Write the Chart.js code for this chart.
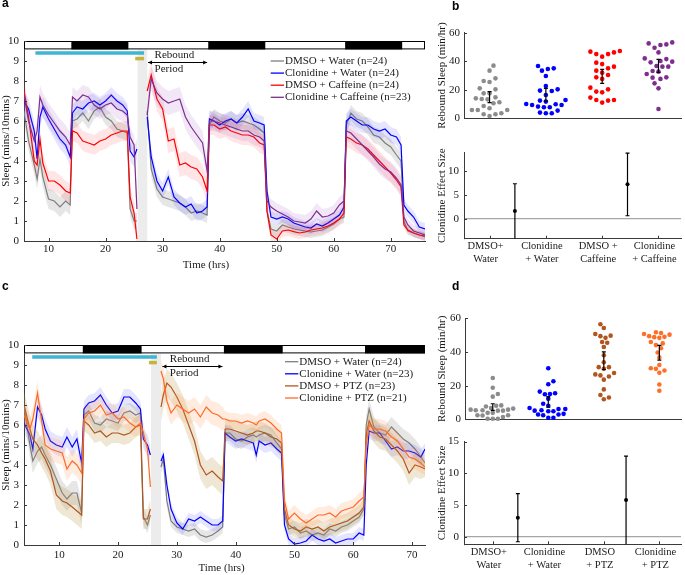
<!DOCTYPE html>
<html>
<head>
<meta charset="utf-8">
<title>Clonidine rebound sleep</title>
<script src="https://cdn.jsdelivr.net/npm/chart.js@4.4.1/dist/chart.umd.min.js"></script>
<style>
  body { margin: 0; background: #fff; }
  #page { position: relative; width: 685px; height: 575px; overflow: hidden; }
  canvas { position: absolute; }
  .tag { position: absolute; font: bold 12px "Liberation Sans", Arial, sans-serif; line-height: 12px; }
</style>
</head>
<body>
<div id="page">
  <canvas id="chartA" width="440" height="280" style="left:0;top:0"></canvas>
  <canvas id="chartB1" width="251" height="130" style="left:434px;top:0"></canvas>
  <canvas id="chartB2" width="251" height="150" style="left:434px;top:130px"></canvas>
  <canvas id="chartC" width="440" height="295" style="left:0;top:280px"></canvas>
  <canvas id="chartD1" width="251" height="150" style="left:434px;top:280px"></canvas>
  <canvas id="chartD2" width="251" height="145" style="left:434px;top:430px"></canvas>
  <div class="tag" style="left:2px;top:-3px">a</div>
  <div class="tag" style="left:452px;top:0">b</div>
  <div class="tag" style="left:2px;top:280px">c</div>
  <div class="tag" style="left:452px;top:280px">d</div>
</div>
<script>
// ---------- panel a: caffeine, sleep per 10 min ----------
const timeA = [5.7, 6.5, 7.5, 8, 8.5, 9, 10, 11, 12, 13, 13.8,
  14.2, 15, 16, 17, 18, 19, 20, 21, 22, 23, 23.8,
  24.3, 25, 25.5, 26.5,
  27.3, 28, 29, 30, 31, 32, 33, 34, 35, 36, 37, 37.8,
  38.2, 39, 40, 41, 42, 43, 44, 45, 46, 47, 47.8,
  48.3, 49, 50, 51, 52, 53, 54, 55, 56, 57, 58, 59, 60, 61, 61.8,
  62.2, 63, 64, 65, 66, 67, 68, 69, 70, 71, 71.8,
  72.3, 73, 74, 75, 76];
const dmsoWaterA = [6.5, 5.0, 3.8, 3.1, 4.1, 3.2, 2.1, 2.0, 1.7, 2.0, 1.8,
  6.0, 6.1, 6.4, 6.0, 6.5, 6.7, 6.2, 6.0, 5.6, 5.5, 5.4,
  1.6, 1.0, 1.0, null,
  6.5, 3.6, 2.6, 2.2, 2.1, 2.0, 1.9, 1.7, 1.4, 1.5, 1.4, 1.3,
  5.8, 6.2, 6.0, 5.9, 6.1, 5.9, 6.0, 5.9, 5.8, 5.6, 5.4,
  1.5, 0.6, 0.5, 0.8, 0.7, 0.6, 0.55, 0.5, 0.45, 0.5, 0.55, 0.7, 0.85, 1.1, 1.2,
  5.8, 6.4, 6.1, 6.0, 5.7, 5.3, 5.2, 4.9, 4.7, 4.3, 4.0,
  1.0, 0.5, 0.4, 0.3, 0.2];
const cloWaterA = [7.0, 6.6, 5.5, 4.1, 6.2, 6.7, 6.1, 5.6, 5.1, 4.8, 4.2,
  6.4, 6.7, 6.6, 6.9, 7.0, 6.8, 7.0, 7.3, 7.0, 6.8, 6.5,
  4.5, 4.2, 4.6, null,
  6.2, 4.2, 3.0, 2.5, 3.2, 2.2, 1.9, 1.7, 1.85, 1.4, 1.5, 1.7,
  6.1, 6.0, 5.8, 6.0, 6.1, 5.9, 6.2, 6.6, 6.0, 5.9, 5.8,
  2.5, 1.2, 1.1, 1.2, 1.1, 0.9, 0.8, 0.7, 0.65, 0.85, 0.75, 0.9, 1.1, 1.3, 1.7,
  6.0, 6.2, 6.0, 5.8, 5.8, 5.6, 5.5, 5.6, 5.3, 5.2, 4.8,
  1.8, 1.5, 1.2, 0.7, 0.6];
const dmsoCafA = [7.5, 6.2, 4.0, 3.8, 5.1, 3.9, 3.0, 3.0, 2.8, 2.5, 2.4,
  5.5, 5.4, 5.0, 4.9, 4.8, 5.0, 5.1, 5.3, 5.4, 5.5, 5.5,
  2.2, 1.4, 0.1, null,
  7.5, 8.3, 7.1, 6.6, 5.0, 5.1, 3.8, 3.9, 3.7, 3.6, 3.2, 2.5,
  5.8, 5.8, 5.6, 5.7, 5.5, 5.4, 5.3, 5.3, 5.2, 4.9, 4.8,
  1.5, 0.3, 0.1, 0.5, 0.55, 0.47, 0.4, 0.45, 0.55, 0.6, 0.65, 0.75, 0.9, 1.1, 1.4,
  5.2, 5.1, 4.9, 4.8, 4.6, 4.3, 4.0, 3.7, 3.4, 3.05, 2.7,
  0.8, 0.55, 0.4, 0.3, 0.25];
const cloCafA = [7.3, 6.0, 5.0, 5.5, 7.2, 6.8, 6.3, 5.9, 5.5, 5.2, 4.8,
  7.2, 7.0, 7.3, 7.2, 6.8, 6.6, 6.8, 6.9, 6.6, 6.5, 6.3,
  5.2, 4.8, 1.6, null,
  6.3, 8.1, 7.4, 7.1, 6.9, 7.0, 7.1, 6.2, 5.7, 5.3, 4.9, 3.5,
  6.0, 6.0, 5.9, 5.8, 5.7, 5.6, 5.5, 5.5, 5.3, 5.2, 5.0,
  2.0, 1.7, 1.5, 1.35, 1.2, 1.0, 0.95, 0.9, 1.1, 1.5, 1.2, 1.25, 1.4, 1.8, 2.0,
  5.5, 5.4, 5.1, 4.8, 4.5, 4.2, 3.85, 3.6, 3.45, 3.15, 2.8,
  1.2, 0.8, 0.5, 0.4, 0.3];
// shaded error per phase: <14, 14-24, 24-27, 27-38, 38-48, 48-62, 62-72, >72
const semDmsoWaterA = [0.5, 0.4, 0.4, 0.4, 0.4, 0.3, 0.4, 0.2];
const semCloWaterA = [0.5, 0.4, 0.5, 0.4, 0.4, 0.3, 0.4, 0.3];
const semDmsoCafA = [0.5, 0.5, 0.5, 0.6, 0.5, 0.3, 0.5, 0.2];
const semCloCafA = [0.6, 0.5, 0.5, 0.6, 0.5, 0.4, 0.5, 0.3];
const darkA = [[14, 24], [38, 48], [62, 72]];
const drugA = [7.7, 26.75];
const testA = [25.2, 26.75];
const gapA = [25.6, 27.3];
const reboundA = [27.45, 37.8];
const legendA = ['DMSO + Water (n=24)', 'Clonidine + Water (n=24)', 'DMSO + Caffeine (n=24)', 'Clonidine + Caffeine (n=23)'];

// ---------- panel c: PTZ ----------
const timeC = [4, 5, 5.5, 6.3, 7, 7.6, 8.5, 9.5, 10.5, 11.3, 12.2, 13, 13.8,
  14.2, 15, 16, 17, 18, 19, 20, 21, 22, 23, 23.8,
  24.3, 25, 25.5, 26.5,
  27.3, 27.7, 28.3, 29, 30, 31, 32, 33, 34, 35, 36, 37, 37.8,
  38.2, 39, 40, 41, 42, 43, 43.5, 44, 45, 46, 47, 47.8,
  48.3, 49, 50, 51, 52, 53, 54, 55, 56, 57, 58, 59, 60, 61, 61.8,
  62.2, 62.7, 63.5, 64.5, 65.5, 66.5, 67.5, 68.5, 69.5, 70.5, 71.5, 72.2];
const dmsoWaterC = [7.0, 5.0, 4.2, 4.7, 4.9, 4.5, 4.0, 3.3, 2.6, 2.3, 2.6, 2.6, 1.6,
  6.5, 6.7, 6.1, 6.0, 6.3, 6.2, 6.1, 6.6, 6.7, 6.5, 6.6,
  1.4, 1.0, 1.5, null,
  3.9, 4.3, 2.2, 1.2, 0.9, 0.8, 0.7, 0.8, 0.5, 0.4, 0.5, 0.7, 0.9,
  5.6, 5.6, 5.3, 5.2, 5.4, 5.5, 5.4, 5.5, 5.6, 5.5, 5.1, 4.8,
  1.5, 0.8, 0.9, 0.6, 0.7, 0.5, 0.6, 0.5, 0.8, 0.7, 0.9, 1.0, 1.2, 1.4, 1.8,
  6.0, 6.8, 5.9, 5.6, 5.5, 5.9, 5.6, 5.3, 5.1, 4.8, 4.4, 4.1];
const cloWaterC = [6.1, 5.5, 4.8, 6.9, 6.5, 5.8, 5.2, 5.0, 4.9, 5.4, 4.9, 5.3, 4.1,
  6.8, 7.1, 7.2, 7.5, 7.0, 6.6, 6.7, 7.4, 7.4, 7.1, 6.8,
  5.3, 5.0, 4.5, null,
  4.2, 4.5, 3.0, 1.8, 1.1, 0.8, 1.3, 1.2, 1.4, 1.2, 1.0, 1.0, 1.2,
  5.6, 5.4, 5.2, 5.3, 5.2, 5.1, 4.5, 5.2, 5.0, 5.1, 4.8, 4.6,
  1.0, 0.3, 0.05, 0.1, 0.2, 0.5, 0.3, 0.2, 0.3, 0.1, 0.2, 0.3, 0.3, 0.6, 0.5,
  4.0, 5.7, 5.6, 5.6, 5.2, 4.8, 4.9, 4.7, 4.7, 4.6, 4.4, 4.8];
const dmsoPtzC = [7.0, 5.8, 5.3, 5.0, 4.6, 4.3, 3.7, 2.5, 2.2, 2.1, 1.9, 1.7, 1.5,
  6.2, 6.0, 5.6, 5.7, 5.4, 5.6, 5.6, 5.5, 5.6, 5.9, 6.0,
  1.3, 1.3, 1.8, null,
  6.9, 7.5, 8.1, 7.9, 7.4, 6.8, 6.0, 5.2, 4.0, 3.5, 3.7, 3.4, 3.2,
  5.8, 5.8, 5.7, 5.6, 5.5, 5.6, 5.7, 5.7, 5.6, 5.4, 5.3, 5.1,
  1.8, 1.0, 0.8, 0.7, 0.9, 0.8, 0.9, 0.7, 0.9, 1.0, 1.1, 1.2, 1.4, 1.6, 1.9,
  5.5, 6.2, 5.7, 5.4, 5.3, 5.0, 4.7, 4.3, 3.6, 4.0, 3.9, 3.8];
const cloPtzC = [6.5, 5.8, 6.3, 7.6, 6.2, 5.0, 4.8, 4.7, 4.6, 3.8, 4.2, 4.0, 3.6,
  6.3, 6.6, 6.7, 7.0, 6.5, 6.6, 6.3, 6.4, 6.1, 5.9, 6.1,
  5.6, 4.8, 2.9, null,
  8.7, 8.3, 7.2, 6.6, 7.0, 6.8, 6.6, 6.8, 6.4, 6.9, 6.6, 6.5, 6.3,
  6.3, 6.2, 6.2, 6.1, 6.2, 6.1, 6.0, 6.2, 6.3, 6.1, 5.8, 5.6,
  2.2, 1.3, 1.6, 1.3, 1.1, 1.3, 1.5, 1.5, 1.6, 1.4, 1.7, 1.8, 1.9, 2.2, 2.4,
  5.0, 6.0, 5.8, 5.8, 5.7, 5.4, 5.2, 4.8, 4.4, 4.3, 4.1, 3.9];
const semDmsoWaterC = [0.6, 0.4, 0.4, 0.3, 0.4, 0.3, 0.5, 0.3];
const semCloWaterC = [0.5, 0.4, 0.5, 0.3, 0.4, 0.3, 0.4, 0.3];
const semDmsoPtzC = [0.7, 0.5, 0.5, 0.7, 0.5, 0.4, 0.6, 0.4];
const semCloPtzC = [0.6, 0.5, 0.5, 0.6, 0.4, 0.4, 0.5, 0.4];
const darkC = [[14, 24], [38, 48], [62, 72.2]];
const drugC = [5.4, 26.6];
const testC = [25.25, 26.6];
const gapC = [25.6, 27.3];
const reboundC = [27.55, 37.75];
const legendC = ['DMSO + Water (n=24)', 'Clonidine + Water (n=23)', 'DMSO + PTZ (n=23)', 'Clonidine + PTZ (n=21)'];

const phaseEdges = [14, 24, 27, 38, 48, 62, 72];
const sleepTicks = [0, 1, 2, 3, 4, 5, 6, 7, 8, 9, 10];
const hourTicks = [10, 20, 30, 40, 50, 60, 70];

// ---------- panels b and d: rebound sleep per fish (min/hr) ----------
const reboundDmsoWaterB = [36.9, 33.4, 28, 25.4, 26.1, 20.3, 21, 17.5, 17.5, 14, 14.7, 13.5, 11.2, 13.3, 10.5, 8.6, 5.8, 7, 5.8, 5.8, 3.5, 2.8, 2.8, 1.6];
const reboundCloWaterB = [35, 36.7, 33.4, 34.6, 29.7, 22.6, 20.3, 19.1, 19.4, 16.3, 12.8, 12.4, 11.7, 9.8, 9.3, 10, 9.3, 7.7, 8.2, 7.7, 5.4, 3.5, 4, 3.5];
const reboundDmsoCafB = [45, 47.2, 46.7, 45, 46.2, 43.2, 38, 39, 35, 36.2, 32, 33.4, 30.4, 28.7, 27.6, 18.7, 18.2, 20.3, 21.5, 14.5, 11, 12.8, 12.4, 12.8];
const reboundCloCafB = [51.8, 53.2, 52.5, 51.4, 49.5, 46.2, 39.7, 40.2, 42, 39.2, 41.5, 36.2, 36.2, 36.7, 32.7, 33.2, 31, 28.5, 28.7, 27.6, 24.5, 21, 6.5];
const semLowB = [11, 12.1, 24.5, 32.2];
const semHighB = [18.7, 21, 34.3, 41.3];
const effectXB = [1.45, 3.45];
const effectB = [1.6, 7.2];
const effectLowB = [-4.5, 0.6];
const effectHighB = [7.3, 13.7];
const groupLabelsB = [['DMSO+', 'Water'], ['Clonidine', '+ Water'], ['DMSO +', 'Caffeine'], ['Clonidine', '+ Caffeine']];

const reboundDmsoWaterD = [24.6, 18.8, 15.1, 13.5, 6.4, 5.4, 5.2, 8.3, 7.7, 8.1, 5.2, 6.8, 5.4, 3.9, 3.9, 2.3, 2.5, 2.5, 1.4, 0.4, 0.4, 0.4, 5.8, 5.8];
const reboundCloWaterD = [30.4, 22.6, 20.9, 16.5, 15.5, 15.1, 14.9, 12.2, 9.3, 8.1, 6.2, 6.8, 5.2, 4.8, 5.4, 4.8, 6.2, 2.5, 2.9, 3.3, 2.9, 1, 1];
const reboundDmsoPtzD = [56.5, 54.2, 50.7, 49.4, 49.7, 48.4, 45.9, 45.5, 43, 38.1, 31, 33.9, 31, 30, 27.5, 25.5, 26.7, 26.1, 23.6, 17.8, 14.5, 13, 12];
const reboundCloPtzD = [49, 50.7, 48.4, 51.7, 51.3, 48.8, 50.3, 49.4, 42.2, 45.9, 44.1, 45.1, 39.7, 36.8, 32.3, 30.4, 30, 29, 27.7, 20.7, 17];
const semLowD = [5.4, 7.2, 29.6, 35.2];
const semHighD = [9.3, 13.5, 40.1, 43.9];
const effectXD = [1.45, 3.4];
const effectD = [3.0, 5.8];
const effectLowD = [-0.8, -1.5];
const effectHighD = [6.8, 12.7];
const groupLabelsD = [['DMSO+', 'Water'], ['Clonidine', '+ Water'], ['DMSO', '+ PTZ'], ['Clonidine', '+ PTZ']];

const groupTicks = [1, 2, 3, 4];
const reboundTicks = [0, 20, 40, 60];

const SERIF = '"Liberation Serif", "Times New Roman", serif';
const AXIS = '#3a3a3a';
const GREY = '#7f7f7f', BLUE = '#0000ff', RED = '#ff0000', PURPLE = '#7e2f8e', BROWN = '#b0561e', ORANGE = '#ff6a2a';

Chart.defaults.font.family = SERIF;
Chart.defaults.font.size = 11;
Chart.defaults.color = '#1a1a1a';
Chart.defaults.animation = false;
Chart.defaults.plugins.legend.display = false;
Chart.defaults.plugins.tooltip.enabled = false;


const deco = {
    id: 'deco',
    beforeDatasetsDraw(chart, args, o) {
        if (!o.gap) return;
        const { ctx, scales: { x, y } } = chart;
        const x0 = x.getPixelForValue(o.gap[0]);
        const x1 = x.getPixelForValue(o.gap[1]);
        const yTop = y.getPixelForValue(o.barBottom);
        ctx.save();
        ctx.fillStyle = '#ececec';
        ctx.fillRect(x0, yTop, x1 - x0, y.getPixelForValue(0) - yTop);
        ctx.restore();
    },
    afterDatasetsDraw(chart, args, o) {
        const { ctx, chartArea: area, scales: { x, y } } = chart;
        ctx.save();
        if (o.dark) {
            const yt = y.getPixelForValue(10);
            const yb = y.getPixelForValue(o.barBottom);
            ctx.fillStyle = '#fff';
            ctx.fillRect(area.left, yt, area.right - area.left, yb - yt);
            ctx.fillStyle = '#000';
            o.dark.forEach(([t0, t1]) => {
                const p0 = x.getPixelForValue(t0);
                const p1 = Math.min(x.getPixelForValue(t1), area.right);
                ctx.fillRect(p0, yt, p1 - p0, yb - yt);
            });
            ctx.strokeStyle = '#000';
            ctx.lineWidth = 1;
            ctx.strokeRect(area.left + 0.5, Math.round(yt) + 0.5, area.right - area.left - 1, yb - yt - 1);
        }
        if (o.errors) {
            ctx.beginPath();
            ctx.rect(area.left, area.top - 2, area.right - area.left, area.bottom - area.top + 2);
            ctx.clip();
            ctx.strokeStyle = '#000';
            ctx.lineWidth = 1.2;
            o.errors.x.forEach((xv, i) => {
                const px = x.getPixelForValue(xv);
                const lo = y.getPixelForValue(o.errors.low[i]);
                const hi = y.getPixelForValue(o.errors.high[i]);
                ctx.beginPath();
                ctx.moveTo(px, lo); ctx.lineTo(px, hi);
                ctx.moveTo(px - 2, lo); ctx.lineTo(px + 2, lo);
                ctx.moveTo(px - 2, hi); ctx.lineTo(px + 2, hi);
                ctx.stroke();
            });
        }
        ctx.restore();
    },
    afterDraw(chart, args, o) {
        const { ctx, scales: { x, y } } = chart;
        ctx.save();
        ctx.strokeStyle = AXIS;
        ctx.lineWidth = 1;
        (o.inTicks || []).forEach(id => {
            const s = chart.scales[id];
            s.ticks.forEach(t => {
                const p = Math.round(s.getPixelForValue(t.value)) + 0.5;
                ctx.beginPath();
                if (s.isHorizontal()) {
                    ctx.moveTo(p, s.top); ctx.lineTo(p, s.top - 3);
                } else {
                    ctx.moveTo(s.right, p); ctx.lineTo(s.right + 3, p);
                }
                ctx.stroke();
            });
        });
        ctx.fillStyle = '#1a1a1a';
        ctx.font = '11px ' + SERIF;
        ctx.textBaseline = 'middle';
        if (o.arrow) {
            const p0 = x.getPixelForValue(o.arrow.span[0]);
            const p1 = x.getPixelForValue(o.arrow.span[1]);
            const py = Math.round(y.getPixelForValue(o.arrow.at)) + 0.5;
            ctx.strokeStyle = '#000';
            ctx.beginPath(); ctx.moveTo(p0, py); ctx.lineTo(p1, py); ctx.stroke();
            ctx.fillStyle = '#000';
            ctx.beginPath(); ctx.moveTo(p0, py); ctx.lineTo(p0 + 4, py - 2); ctx.lineTo(p0 + 4, py + 2); ctx.fill();
            ctx.beginPath(); ctx.moveTo(p1, py); ctx.lineTo(p1 - 4, py - 2); ctx.lineTo(p1 - 4, py + 2); ctx.fill();
            ctx.fillStyle = '#1a1a1a';
            ctx.textAlign = 'left';
            o.arrow.text.forEach(t => ctx.fillText(t.text, x.getPixelForValue(t.x), y.getPixelForValue(t.y)));
        }
        if (o.legend) {
            const L = o.legend;
            L.items.forEach((item, i) => {
                const py = L.y + i * L.dy;
                ctx.strokeStyle = item.color;
                ctx.lineWidth = 1.3;
                ctx.beginPath(); ctx.moveTo(L.x, py); ctx.lineTo(L.x + L.len, py); ctx.stroke();
                ctx.fillText(item.text, L.x + L.len + 1, py);
            });
        }
        if (o.xTitle) {
            ctx.textAlign = 'center';
            ctx.fillText(o.xTitle.text, x.getPixelForValue(o.xTitle.at), o.xTitle.y);
        }
        ctx.restore();
    }
};
Chart.register(deco);


function fixedTicks(list) {
    return scale => { scale.ticks = list.map(v => ({ value: v })); };
}


function phaseOf(t) {
    return phaseEdges.filter(e => t >= e).length;
}


function points(times, values) {
    return times.map((t, i) => ({ x: t, y: values[i] }));
}


function band(times, values, sem, sign) {
    return times.map((t, i) => ({ x: t, y: values[i] === null ? null : values[i] + sign * sem[phaseOf(t)] }));
}


// simple beeswarm: sort by value, push each dot sideways until it no longer overlaps
function swarm(values, pxPerX, pxPerY, diam) {
    const order = values.map((v, i) => i).sort((a, b) => values[a] - values[b]);
    const placed = [];
    const offsets = values.map(() => 0);
    const step = diam / 3;
    order.forEach((i, n) => {
        const side = n % 2 ? 1 : -1;
        const py = values[i] * pxPerY;
        for (let k = 0; k < 80; k++) {
            const px = side * (k % 2 ? 1 : -1) * Math.ceil(k / 2) * step;
            if (placed.every(p => Math.hypot(p.x - px, p.y - py) >= diam)) {
                placed.push({ x: px, y: py });
                offsets[i] = px / pxPerX;
                break;
            }
        }
    });
    return offsets;
}


function timeChart(id, p) {
    const datasets = [];
    p.series.forEach((s, k) => {
        const order = 100 - k * 20;
        datasets.push({ data: band(p.times, s.values, s.sem, 1), fill: '+1', backgroundColor: s.fill, borderWidth: 0, pointRadius: 0, order: order });
        datasets.push({ data: band(p.times, s.values, s.sem, -1), fill: false, borderWidth: 0, pointRadius: 0, order: order });
    });
    p.series.forEach((s, k) => {
        datasets.push({ data: points(p.times, s.values), borderColor: s.color, borderWidth: 1.2, pointRadius: 0, fill: false, order: 90 - k * 20 });
    });
    datasets.push({ data: [{ x: p.drug[0], y: 9.4 }, { x: p.drug[1], y: 9.4 }], borderColor: '#3db5d3', borderWidth: 3.5, borderCapStyle: 'butt', pointRadius: 0, order: 0 });
    datasets.push({ data: [{ x: p.test[0], y: 9.12 }, { x: p.test[1], y: 9.12 }], borderColor: '#c8b43c', borderWidth: 3.5, borderCapStyle: 'butt', pointRadius: 0, order: 0 });

    new Chart(document.getElementById(id), {
        type: 'line',
        data: { datasets: datasets },
        options: {
            responsive: false,
            devicePixelRatio: 1,
            layout: { padding: { left: 0, right: 15, top: p.top, bottom: 0 } },
            elements: { line: { tension: 0 } },
            scales: {
                x: {
                    type: 'linear', min: p.xMin, max: p.xMax,
                    afterBuildTicks: fixedTicks(hourTicks),
                    afterFit: s => { s.height = p.xHeight; },
                    grid: { display: false, drawTicks: false },
                    border: { color: AXIS },
                    ticks: { padding: p.xPad, maxRotation: 0, autoSkip: false }
                },
                y: {
                    min: 0, max: 10,
                    afterBuildTicks: fixedTicks(sleepTicks),
                    afterFit: s => { s.width = 24; },
                    grid: { display: false, drawTicks: false },
                    border: { color: AXIS },
                    ticks: { padding: 5, autoSkip: false },
                    title: { display: true, text: 'Sleep (mins/10mins)', padding: { top: 0, bottom: 0 } }
                }
            },
            plugins: {
                deco: {
                    inTicks: ['x', 'y'],
                    gap: p.gap,
                    barBottom: 9.58,
                    dark: p.dark,
                    arrow: { span: p.rebound, at: 8.95, text: [{ text: 'Rebound', x: p.textX, y: 9.28 }, { text: 'Period', x: p.textX, y: 8.6 }] },
                    legend: { x: p.legendX, y: p.legendY, dy: 12.1, len: 13.3, items: p.series.map(s => ({ text: s.label, color: s.color })) },
                    xTitle: { text: 'Time (hrs)', at: 37.6, y: p.titleY }
                }
            }
        }
    });
}


function swarmChart(id, p) {
    const pxPerX = p.width / (p.xMax - p.xMin);
    const pxPerY = p.height / 60;
    const datasets = p.groups.map((g, k) => {
        const offsets = swarm(g.values, pxPerX, pxPerY, p.diam);
        return {
            data: g.values.map((v, i) => ({ x: groupTicks[k] + offsets[i], y: v })),
            pointRadius: 2.3, pointBackgroundColor: g.color, pointBorderWidth: 0, clip: false
        };
    });

    new Chart(document.getElementById(id), {
        type: 'scatter',
        data: { datasets: datasets },
        options: {
            responsive: false,
            devicePixelRatio: 1,
            layout: { padding: { left: 0, right: 0, top: p.top, bottom: 0 } },
            scales: {
                x: {
                    type: 'linear', min: p.xMin, max: p.xMax,
                    afterFit: s => { s.height = p.xHeight; },
                    grid: { display: false, drawTicks: false },
                    border: { color: AXIS },
                    ticks: { display: false }
                },
                y: {
                    min: 0, max: 60,
                    afterBuildTicks: fixedTicks(reboundTicks),
                    afterFit: s => { s.width = p.yWidth; },
                    grid: { display: false, drawTicks: false },
                    border: { color: AXIS },
                    ticks: { padding: 4, autoSkip: false },
                    title: { display: true, text: 'Rebound Sleep (min/hr)', padding: { top: 1.5, bottom: 0 } }
                }
            },
            plugins: {
                deco: { inTicks: ['y'], errors: { x: groupTicks, low: p.low, high: p.high } }
            }
        }
    });
}


function effectChart(id, p) {
    new Chart(document.getElementById(id), {
        type: 'scatter',
        data: {
            datasets: [{
                data: p.x.map((xv, i) => ({ x: xv, y: p.values[i] })),
                pointRadius: 2, pointBackgroundColor: '#000', pointBorderWidth: 0
            }]
        },
        options: {
            responsive: false,
            devicePixelRatio: 1,
            layout: { padding: { left: 0, right: 0, top: p.top, bottom: 0 } },
            scales: {
                x: {
                    type: 'linear', min: p.xMin, max: p.xMax,
                    afterBuildTicks: fixedTicks(groupTicks),
                    afterFit: s => { s.height = p.xHeight; },
                    grid: { display: false, drawTicks: false },
                    border: { color: AXIS },
                    ticks: {
                        padding: 1.7, autoSkip: false, maxRotation: 0, labelOffset: -4,
                        font: { size: 10.5, lineHeight: 1.2 },
                        callback: v => p.labels[Math.round(v) - 1]
                    }
                },
                y: {
                    min: p.yMin, max: p.yMax,
                    afterBuildTicks: fixedTicks(p.ticks),
                    afterFit: s => { s.width = 30; },
                    grid: { drawTicks: false, lineWidth: 1.2, color: c => (c.tick && c.tick.value === 0 ? '#a6a6a6' : 'rgba(0,0,0,0)') },
                    border: { color: AXIS },
                    ticks: { padding: 5, autoSkip: false },
                    title: { display: true, text: 'Clonidine Effect Size', padding: { top: 1.5, bottom: 0 } }
                }
            },
            plugins: {
                deco: { inTicks: ['x', 'y'], errors: { x: p.x, low: p.low, high: p.high } }
            }
        }
    });
}


timeChart('chartA', {
    times: timeA, xMin: 5.7, xMax: 76, top: 41, xHeight: 39, xPad: 1.5, titleY: 265,
    gap: gapA, dark: darkA, drug: drugA, test: testA, rebound: reboundA, textX: 28.6,
    legendX: 270.7, legendY: 61,
    series: [
        { label: legendA[0], values: dmsoWaterA, sem: semDmsoWaterA, color: GREY, fill: 'rgba(128,128,128,0.2)' },
        { label: legendA[1], values: cloWaterA, sem: semCloWaterA, color: BLUE, fill: 'rgba(40,40,255,0.12)' },
        { label: legendA[2], values: dmsoCafA, sem: semDmsoCafA, color: RED, fill: 'rgba(255,40,40,0.12)' },
        { label: legendA[3], values: cloCafA, sem: semCloCafA, color: PURPLE, fill: 'rgba(150,60,180,0.12)' }
    ]
});

timeChart('chartC', {
    times: timeC, xMin: 4, xMax: 72.2, top: 65, xHeight: 30, xPad: 4, titleY: 288,
    gap: gapC, dark: darkC, drug: drugC, test: testC, rebound: reboundC, textX: 28.8,
    legendX: 285, legendY: 81.7,
    series: [
        { label: legendC[0], values: dmsoWaterC, sem: semDmsoWaterC, color: GREY, fill: 'rgba(128,128,128,0.2)' },
        { label: legendC[1], values: cloWaterC, sem: semCloWaterC, color: BLUE, fill: 'rgba(40,40,255,0.12)' },
        { label: legendC[2], values: dmsoPtzC, sem: semDmsoPtzC, color: BROWN, fill: 'rgba(185,140,60,0.22)' },
        { label: legendC[3], values: cloPtzC, sem: semCloPtzC, color: ORANGE, fill: 'rgba(255,150,80,0.18)' }
    ]
});

swarmChart('chartB1', {
    xMin: 0.546, xMax: 4.40, top: 32.7, xHeight: 11.7, yWidth: 30, width: 221, height: 85.6, diam: 6,
    low: semLowB, high: semHighB,
    groups: [
        { values: reboundDmsoWaterB, color: '#8c8c8c' },
        { values: reboundCloWaterB, color: BLUE },
        { values: reboundDmsoCafB, color: RED },
        { values: reboundCloCafB, color: PURPLE }
    ]
});

swarmChart('chartD1', {
    xMin: 0.5, xMax: 4.39, top: 38.3, xHeight: 8.3, yWidth: 31, width: 220, height: 103.4, diam: 5.2,
    low: semLowD, high: semHighD,
    groups: [
        { values: reboundDmsoWaterD, color: '#8c8c8c' },
        { values: reboundCloWaterD, color: BLUE },
        { values: reboundDmsoPtzD, color: BROWN },
        { values: reboundCloPtzD, color: '#ff6f2c' }
    ]
});

effectChart('chartB2', {
    xMin: 0.546, xMax: 4.40, yMin: -4.2, yMax: 13.8, ticks: [0, 5, 10], top: 22.7, xHeight: 41.3,
    x: effectXB, values: effectB, low: effectLowB, high: effectHighB, labels: groupLabelsB
});

effectChart('chartD2', {
    xMin: 0.48, xMax: 4.39, yMin: -1.2, yMax: 15, ticks: [0, 5, 10, 15], top: 10.7, xHeight: 30.7,
    x: effectXD, values: effectD, low: effectLowD, high: effectHighD, labels: groupLabelsD
});
</script>
</body>
</html>
